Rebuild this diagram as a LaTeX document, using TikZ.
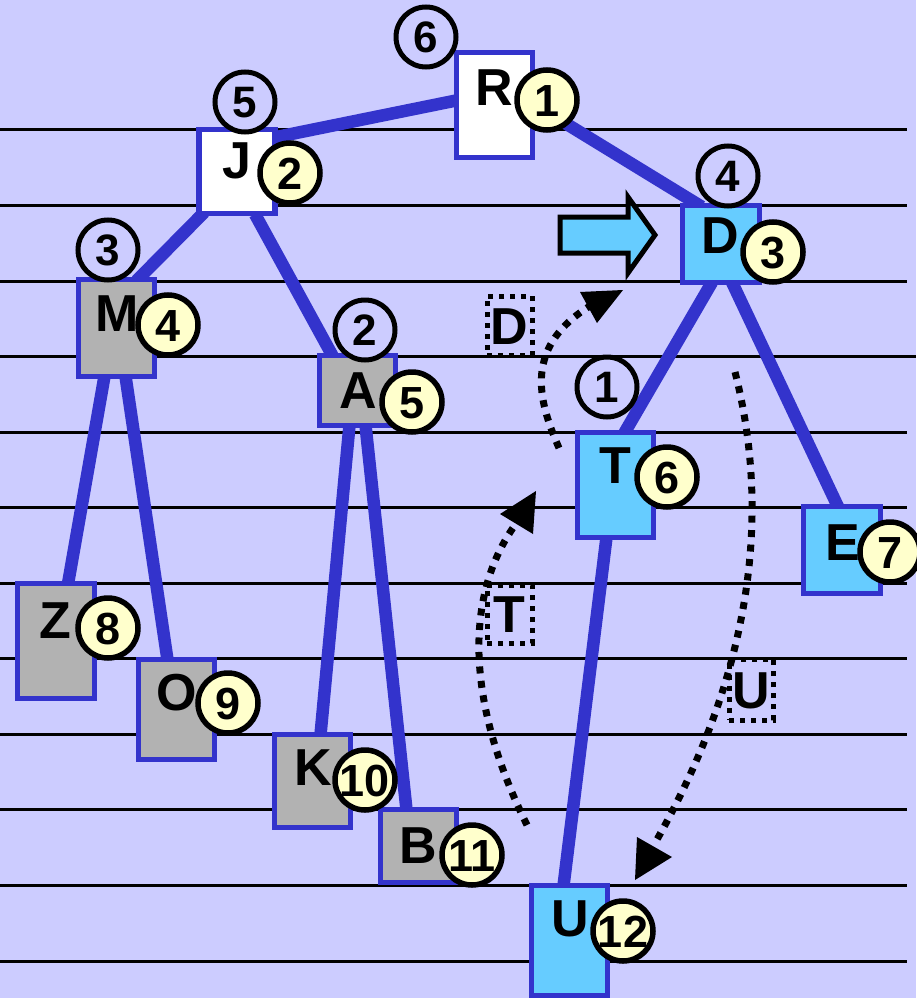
\documentclass[tikz,border=0pt]{standalone}
\usepackage{fontspec}
\setmainfont{Liberation Sans}
\usetikzlibrary{calc}
\definecolor{bg}{HTML}{CCCCFF}
\definecolor{edgeblue}{HTML}{3333CC}
\definecolor{lblue}{HTML}{66CCFF}
\definecolor{gbox}{HTML}{B2B2B2}
\definecolor{badgey}{HTML}{FFFFCC}
\pgfdeclarelayer{bgl}
\pgfdeclarelayer{edgel}
\pgfsetlayers{bgl,edgel,main}
\tikzset{
  box/.style={rectangle, draw=edgeblue, line width=5.5pt, minimum width=76pt, inner sep=0pt},
  lt/.style={inner sep=0pt, font=\fontsize{52}{52}\selectfont\bfseries, text height=37.2pt, text depth=0pt},
  badge/.style={circle, draw=black, line width=5.5pt, fill=badgey, minimum size=60pt, inner sep=0pt,
    font=\fontsize{45}{45}\selectfont\bfseries, text height=32.2pt, text depth=0pt},
  ring/.style={circle, draw=black, line width=5pt, fill=bg, minimum size=60pt, inner sep=0pt,
    font=\fontsize{44}{44}\selectfont\bfseries, text height=31.5pt, text depth=0pt},
  tree/.style={draw=edgeblue, line width=12.5pt},
  hline/.style={draw=black, line width=3pt},
  dotc/.style={draw=black, line width=7pt, dash pattern=on 7pt off 7.5pt},
  dbox/.style={rectangle, draw=black, line width=5pt, dash pattern=on 5pt off 6pt, inner sep=0pt,
    font=\fontsize{52}{52}\selectfont\bfseries, text height=37.2pt, text depth=0pt},
  ahead/.style={fill=black}
}
\begin{document}
\begin{tikzpicture}[x=1pt,y=-1pt]
\useasboundingbox (0,0) rectangle (916,998);
\begin{pgfonlayer}{bgl}
\fill[bg] (0,0) rectangle (916,998);
\foreach \yy in {129,205,281,432,507,583,658,734,809,885,961}
  \draw[hline] (0,\yy) -- (907,\yy);
\draw[hline] (0,356) -- (916,356);
\end{pgfonlayer}

% boxes
\node[box, fill=white, minimum height=105pt] (R) at (494.5,105) {};
\node[box, fill=white, minimum height=84pt] (J) at (237,171.5) {};
\node[box, fill=lblue, minimum height=77pt, minimum width=77pt] (D) at (721,244) {};
\node[box, fill=lblue, minimum height=105pt] (T) at (615.5,485) {};
\node[box, fill=lblue, minimum height=87pt, minimum width=77pt] (E) at (842,550) {};
\node[box, fill=gbox, minimum height=97pt] (M) at (116.5,328) {};
\node[box, fill=gbox, minimum height=70pt] (A) at (357.5,390.5) {};
\node[box, fill=gbox, minimum height=115pt, minimum width=77pt] (Z) at (56,641) {};
\node[box, fill=gbox, minimum height=100pt] (O) at (176.5,709.5) {};
\node[box, fill=gbox, minimum height=93pt] (K) at (312.5,781) {};
\node[box, fill=gbox, minimum height=73pt] (B) at (418.5,846) {};
\node[box, fill=lblue, minimum height=110pt] (U) at (569.5,940.5) {};

% tree edges
\begin{pgfonlayer}{edgel}
\draw[tree] ($(J.north east)+(-5,11)$) -- ($(R.north west)+(6,50)$);
\draw[tree] ($(R.north east)+(-5,52)$) -- ($(D.north west)+(22,4)$);
\draw[tree] ($(J.south west)+(8,-4)$) -- ($(M.north)+(20,4)$);
\draw[tree] ($(J.south)+(18,-2)$) -- ($(A.north)+(-25,3)$);
\draw[tree] ($(M.south)+(-12,-3)$) -- ($(Z.north)+(12,3)$);
\draw[tree] ($(M.south)+(9,-3)$) -- ($(O.north)+(-9,3)$);
\draw[tree] ($(A.south)+(-8,-3)$) -- ($(K.north)+(8,3)$);
\draw[tree] ($(A.south)+(8,-3)$) -- ($(B.north)+(-12,3)$);
\draw[tree] ($(D.south)+(-9,-3)$) -- ($(T.north)+(9,3)$);
\draw[tree] ($(D.south)+(11,-3)$) -- ($(E.north)+(-4,3)$);
\draw[tree] ($(T.south)+(-9,-3)$) -- ($(U.north)+(-6,3)$);
\end{pgfonlayer}

% letters
\node[lt] (Rl) at (494,87) {R};
\node[lt] (Jl) at (237,160) {J};
\node[lt] (Dl) at (720,235) {D};
\node[lt] (Tl) at (615,465) {T};
\node[lt] (El) at (843,542) {E};
\node[lt] (Ml) at (117,313) {M};
\node[lt] (Al) at (358,390) {A};
\node[lt] (Zl) at (55,620) {Z};
\node[lt] (Ol) at (177,692) {O};
\node[lt] (Kl) at (313,767) {K};
\node[lt] (Bl) at (418,845) {B};
\node[lt] (Ul) at (570,918) {U};

% badges
\node[badge] (b1) at (547,100) {1};
\node[badge] (b2) at (290,173) {2};
\node[badge] (b3) at (773,252) {3};
\node[badge] (b4) at (168,325) {4};
\node[badge] (b5) at (412,402) {5};
\node[badge] (b6) at (667,477) {6};
\node[badge] (b7) at (890,552) {7};
\node[badge] (b8) at (108,628) {8};
\node[badge] (b9) at (228,703) {9};
\node[badge] (b10) at (365,780) {10};
\node[badge] (b11) at (472,855) {11};
\node[badge] (b12) at (623,931) {12};

% rings
\node[ring] (r6) at (426,37) {6};
\node[ring] (r5) at (245,102) {5};
\node[ring] (r4) at (728,176) {4};
\node[ring] (r3) at (108,250) {3};
\node[ring] (r2) at (365,330) {2};
\node[ring] (r1) at (607,387) {1};

% dotted label boxes
\node[dbox, minimum width=45pt, minimum height=59pt] (dD) at (509.5,325.5) {D};
\node[dbox, minimum width=45pt, minimum height=58pt] (dT) at (509.5,614) {T};
\node[dbox, minimum width=44pt, minimum height=61pt] (dU) at (751,689.5) {U};

% dotted curves
\coordinate (Ds) at (559,448);
\coordinate (De) at (595,303);
\coordinate (Ts) at (527,825);
\coordinate (Te) at (515,525);
\coordinate (Us) at (735,372);
\coordinate (Ue) at (655,843);
\draw[dotc] (Ds) .. controls (538,400) and (522,345) .. (De);
\draw[dotc] (Ts) .. controls (465,700) and (465,595) .. (Te);
\draw[dotc] (Us) .. controls (765,490) and (765,650) .. (Ue);
\fill[ahead] (580,292) -- (623,290) -- (597,323) -- cycle;
\fill[ahead] (500,514) -- (536,491) -- (533,534) -- cycle;
\fill[ahead] (637,837) -- (672,857) -- (635,880) -- cycle;

% blue pointer arrow
\draw[fill=lblue, draw=black, line width=5pt, line join=miter]
  (560,217) -- (628,217) -- (628,197) -- (655,235) -- (628,273) -- (628,253) -- (560,253) -- cycle;
\end{tikzpicture}
\end{document}
